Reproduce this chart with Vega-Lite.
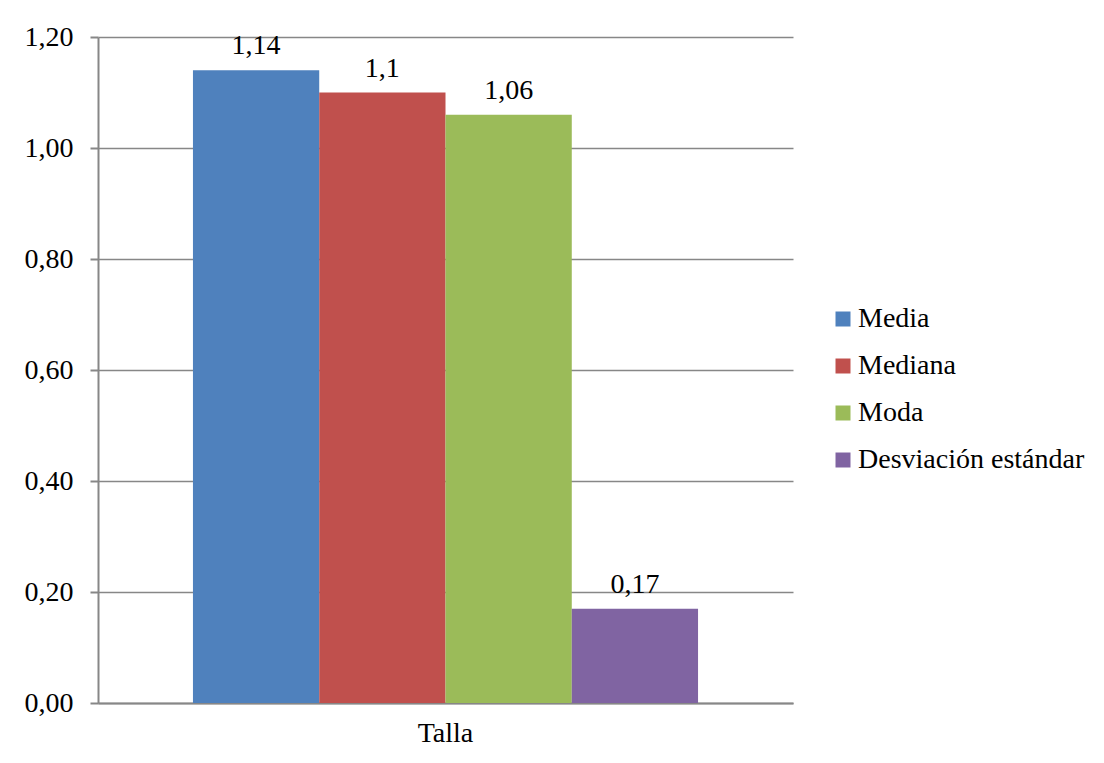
{
  "$schema": "https://vega.github.io/schema/vega-lite/v6.json",
  "autosize": "none",
  "width": 695,
  "height": 666,
  "padding": {"left": 98, "top": 37, "right": 311, "bottom": 60},
  "background": "white",
  "config": {
    "font": "Liberation Serif",
    "view": {"stroke": null},
    "locale": {"number": {"decimal": ",", "thousands": ".", "grouping": [3], "currency": ["", " €"]}}
  },
  "data": {
    "values": [
      {"grupo": "Talla", "medida": "Media", "valor": 1.14},
      {"grupo": "Talla", "medida": "Mediana", "valor": 1.1},
      {"grupo": "Talla", "medida": "Moda", "valor": 1.06},
      {"grupo": "Talla", "medida": "Desviación estándar", "valor": 0.17}
    ]
  },
  "encoding": {
    "x": {
      "field": "grupo",
      "type": "nominal",
      "scale": {"paddingInner": 0, "paddingOuter": 0.188},
      "axis": {
        "title": null,
        "labelAngle": 0,
        "labelFontSize": 28,
        "labelColor": "#000000",
        "labelPadding": 16,
        "ticks": false,
        "domainColor": "#878787",
        "domainWidth": 2
      }
    },
    "xOffset": {
      "field": "medida",
      "type": "nominal",
      "sort": ["Media", "Mediana", "Moda", "Desviación estándar"],
      "scale": {"paddingInner": 0, "paddingOuter": 0}
    },
    "y": {
      "field": "valor",
      "type": "quantitative",
      "scale": {"domain": [0, 1.2], "nice": false},
      "axis": {
        "title": null,
        "values": [0, 0.2, 0.4, 0.6, 0.8, 1.0, 1.2],
        "format": ".2f",
        "labelFontSize": 28,
        "labelColor": "#000000",
        "labelPadding": 17,
        "tickSize": 8,
        "tickColor": "#878787",
        "tickWidth": 2,
        "domainColor": "#878787",
        "domainWidth": 2,
        "grid": true,
        "gridColor": "#878787",
        "gridWidth": 1.5
      }
    }
  },
  "layer": [
    {
      "mark": {"type": "bar"},
      "encoding": {
        "color": {
          "field": "medida",
          "type": "nominal",
          "sort": ["Media", "Mediana", "Moda", "Desviación estándar"],
          "scale": {
            "domain": ["Media", "Mediana", "Moda", "Desviación estándar"],
            "range": ["#4f81bd", "#c0504d", "#9bbb59", "#8064a2"]
          },
          "legend": {
            "title": null,
            "orient": "none",
            "legendX": 731,
            "legendY": 268,
            "symbolType": "square",
            "symbolSize": 225,
            "symbolStrokeWidth": 0,
            "labelFontSize": 28,
            "labelColor": "#000000",
            "labelOffset": 1,
            "labelLimit": 400,
            "rowPadding": 19
          }
        }
      }
    },
    {
      "mark": {"type": "text", "baseline": "alphabetic", "dy": -16, "fontSize": 28, "color": "#000000"},
      "encoding": {
        "text": {"field": "valor", "type": "quantitative", "format": ".2~f"}
      }
    }
  ]
}
